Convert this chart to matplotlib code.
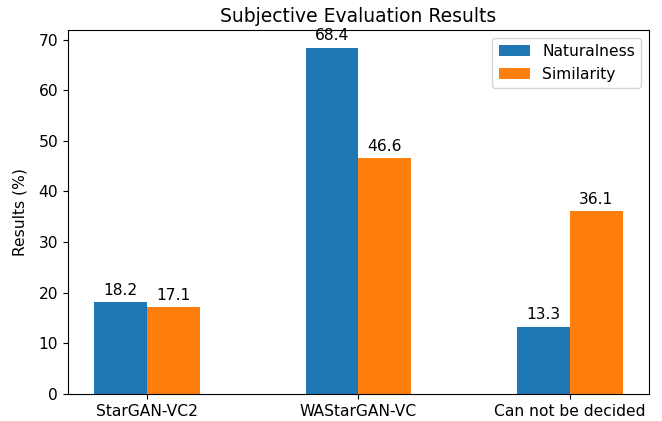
import matplotlib
matplotlib.use("Agg")
from matplotlib import pyplot as plt
import numpy as np

methods = ["StarGAN-VC2", "WAStarGAN-VC", "Can not be decided"]
naturalness = [18.2, 68.4, 13.3]
similarity = [17.1, 46.6, 36.1]

plt.rcParams["font.size"] = 11.2

x = np.arange(len(methods))
width = 0.25

fig = plt.figure(figsize=(6.62, 4.21), dpi=100)
ax = fig.add_axes([0.1023, 0.0641, 0.8781, 0.8639])

b1 = ax.bar(x - width / 2, naturalness, width, label="Naturalness")
b2 = ax.bar(x + width / 2, similarity, width, label="Similarity")

ax.set_title("Subjective Evaluation Results", fontsize=13.5, pad=6)
ax.set_ylabel("Results (%)", labelpad=8)
ax.set_xticks(x)
ax.set_xticklabels(methods)
ax.legend()

for bars in (b1, b2):
    for rect in bars:
        h = rect.get_height()
        ax.annotate("{}".format(h),
                    xy=(rect.get_x() + rect.get_width() / 2, h),
                    xytext=(0, 3), textcoords="offset points",
                    ha="center", va="bottom")

fig.savefig("out.png", dpi=100)
